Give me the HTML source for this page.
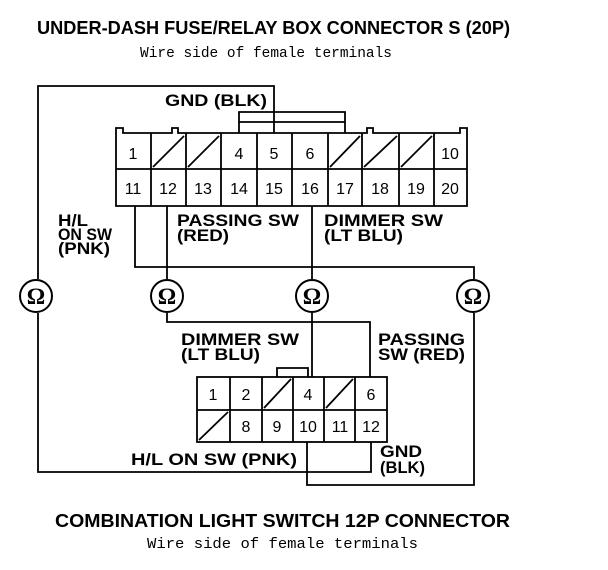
<!DOCTYPE html>
<html><head><meta charset="utf-8"><style>
html,body{margin:0;padding:0;background:#fff;}
svg{display:block;}
.b{font-family:"Liberation Sans",Arial,sans-serif;font-weight:bold;fill:#000;}
.m{font-family:"Liberation Mono",monospace;fill:#000;}
.n{font-family:"Liberation Sans",Arial,sans-serif;fill:#000;font-size:16px;text-anchor:middle;}
</style></head><body>
<svg width="608" height="570" viewBox="0 0 608 570" xmlns="http://www.w3.org/2000/svg">
<g fill="none" stroke="#000" stroke-width="1.8">
<path d="M116,206 V128 H123 V133 H172 V128 H178 V133 H367 V128 H373 V133 H460 V128 H467 V206 Z"/>
<line x1="116" y1="169" x2="467" y2="169"/>
<line x1="151" y1="133" x2="151" y2="206"/>
<line x1="186" y1="133" x2="186" y2="206"/>
<line x1="221" y1="133" x2="221" y2="206"/>
<line x1="257" y1="133" x2="257" y2="206"/>
<line x1="292" y1="133" x2="292" y2="206"/>
<line x1="328" y1="133" x2="328" y2="206"/>
<line x1="362" y1="133" x2="362" y2="206"/>
<line x1="399" y1="133" x2="399" y2="206"/>
<line x1="434" y1="133" x2="434" y2="206"/>
<line x1="153" y1="167" x2="184" y2="136"/>
<line x1="188" y1="167" x2="219" y2="136"/>
<line x1="330" y1="167" x2="360" y2="136"/>
<line x1="364" y1="167" x2="397" y2="136"/>
<line x1="401" y1="167" x2="432" y2="136"/>
<path d="M239,133 V112 H345 V133"/>
<line x1="239" y1="122" x2="345" y2="122"/>
<path d="M274,133 V86 H38 V279"/>
<path d="M135,206 V267 H474 V279"/>
<line x1="167" y1="206" x2="167" y2="279"/>
<line x1="312" y1="206" x2="312" y2="279"/>
<circle cx="36" cy="296" r="16" stroke-width="2"/>
<circle cx="167" cy="296" r="16" stroke-width="2"/>
<circle cx="312" cy="296" r="16" stroke-width="2"/>
<circle cx="473" cy="296" r="16" stroke-width="2"/>
<path d="M38,313 V472 H371 V442"/>
<path d="M167,313 V322 H370 V377"/>
<line x1="312" y1="313" x2="312" y2="377"/>
<path d="M307,442 V485 H474 V313"/>
<path d="M277,377 V368 H308 V377"/>
<rect x="197" y="377" width="190" height="65"/>
<line x1="197" y1="410" x2="387" y2="410"/>
<line x1="230" y1="377" x2="230" y2="442"/>
<line x1="262" y1="377" x2="262" y2="442"/>
<line x1="293" y1="377" x2="293" y2="442"/>
<line x1="324" y1="377" x2="324" y2="442"/>
<line x1="355" y1="377" x2="355" y2="442"/>
<line x1="264" y1="408" x2="291" y2="379"/>
<line x1="326" y1="408" x2="353" y2="379"/>
<line x1="199" y1="440" x2="228" y2="412"/>
</g>
<g font-family="Liberation Serif,serif" font-weight="bold" font-size="23" text-anchor="middle" fill="#000">
<text x="36" y="304">Ω</text>
<text x="167" y="304">Ω</text>
<text x="312" y="304">Ω</text>
<text x="473" y="304">Ω</text>
</g>
<text class="b" x="37" y="34" font-size="18" textLength="473" lengthAdjust="spacingAndGlyphs">UNDER-DASH FUSE/RELAY BOX CONNECTOR S (20P)</text>
<text class="m" x="140" y="57" font-size="15" textLength="252" lengthAdjust="spacingAndGlyphs">Wire side of female terminals</text>
<text class="b" x="55" y="527" font-size="18" textLength="455" lengthAdjust="spacingAndGlyphs">COMBINATION LIGHT SWITCH 12P CONNECTOR</text>
<text class="m" x="147" y="548" font-size="15" textLength="271" lengthAdjust="spacingAndGlyphs">Wire side of female terminals</text>
<g class="b" font-size="17">
<text x="165" y="106" textLength="102" lengthAdjust="spacingAndGlyphs">GND (BLK)</text>
<text x="58" y="226" textLength="30" lengthAdjust="spacingAndGlyphs">H/L</text>
<text x="58" y="240" textLength="54" lengthAdjust="spacingAndGlyphs">ON SW</text>
<text x="58" y="254" textLength="52" lengthAdjust="spacingAndGlyphs">(PNK)</text>
<text x="177" y="226" textLength="122" lengthAdjust="spacingAndGlyphs">PASSING SW</text>
<text x="177" y="241" textLength="52" lengthAdjust="spacingAndGlyphs">(RED)</text>
<text x="324" y="226" textLength="119" lengthAdjust="spacingAndGlyphs">DIMMER SW</text>
<text x="324" y="241" textLength="79" lengthAdjust="spacingAndGlyphs">(LT BLU)</text>
<text x="181" y="345" textLength="118" lengthAdjust="spacingAndGlyphs">DIMMER SW</text>
<text x="181" y="360" textLength="79" lengthAdjust="spacingAndGlyphs">(LT BLU)</text>
<text x="378" y="345" textLength="87" lengthAdjust="spacingAndGlyphs">PASSING</text>
<text x="378" y="360" textLength="87" lengthAdjust="spacingAndGlyphs">SW (RED)</text>
<text x="131" y="465" textLength="166" lengthAdjust="spacingAndGlyphs">H/L ON SW (PNK)</text>
<text x="380" y="457" textLength="42" lengthAdjust="spacingAndGlyphs">GND</text>
<text x="380" y="473" textLength="45" lengthAdjust="spacingAndGlyphs">(BLK)</text>
</g>
<g class="n">
<text x="133" y="159">1</text>
<text x="239" y="159">4</text>
<text x="274" y="159">5</text>
<text x="310" y="159">6</text>
<text x="450" y="159">10</text>
<text x="133" y="194">11</text>
<text x="168" y="194">12</text>
<text x="203" y="194">13</text>
<text x="239" y="194">14</text>
<text x="274" y="194">15</text>
<text x="310" y="194">16</text>
<text x="345" y="194">17</text>
<text x="380" y="194">18</text>
<text x="416" y="194">19</text>
<text x="450" y="194">20</text>
<text x="213" y="400">1</text>
<text x="246" y="400">2</text>
<text x="308" y="400">4</text>
<text x="371" y="400">6</text>
<text x="246" y="432">8</text>
<text x="277" y="432">9</text>
<text x="308" y="432">10</text>
<text x="340" y="432">11</text>
<text x="371" y="432">12</text>
</g>
</svg>
</body></html>
